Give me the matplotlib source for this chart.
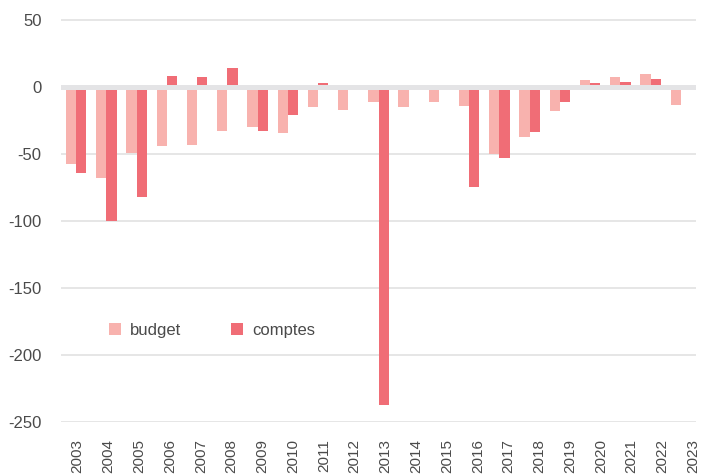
import numpy as np
import matplotlib.pyplot as plt

### data
years = [str(y) for y in range(2003, 2024)]
budget = [-57, -68, -49, -44, -43, -33, -30, -34, -15, -17, -11, -15, -11,
          -14, -50, -37, -18, 5.5, 8, 10.3, -13.3]
comptes = [-64, -100, -82, 8.5, 7.5, 14.3, -33, -21, 3, 0.5, -237, 0.5, 0.5,
           -74.5, -52.5, -33.3, -11.3, 3, 4, 6.5, 0]

c_budget = '#f8b2ae'
c_comptes = '#f06d76'
txt = '#4a4a4a'

plt.rcParams['font.family'] = ['Liberation Sans', 'DejaVu Sans']

fig = plt.figure(figsize=(7.03, 4.75), dpi=100)
ax = fig.add_axes([61 / 703, 53 / 475, 635 / 703, 411 / 475])

x = np.arange(len(years))
w = 0.34
ax.bar(x - w / 2, budget, w, color=c_budget, label='budget', zorder=2)
ax.bar(x + w / 2, comptes, w, color=c_comptes, label='comptes', zorder=2)

# grid + thick zero line
for v in [-250, -200, -150, -100, -50, 50]:
    ax.axhline(v, color='#e6e6e6', lw=1.4, zorder=1)
ax.axhline(0, color='#e4e4e6', lw=3.6, zorder=3)

ax.set_xlim(-0.5, 20.5)
ax.set_ylim(-250, 57)
ax.set_yticks([-250, -200, -150, -100, -50, 0, 50])
ax.set_yticklabels(['-250', '-200', '-150', '-100', '-50', '0', '50'])

# tick labels are spread slightly wider than the bar groups
ax.set_xticks(x * 1.018 + 0.05)
ax.set_xticklabels(years, rotation=90)

ax.tick_params(axis='both', length=0, labelcolor=txt)
ax.tick_params(axis='x', pad=12, labelsize=11)
ax.tick_params(axis='y', pad=14, labelsize=12)
for s in ax.spines.values():
    s.set_visible(False)

ax.legend(loc='center left', bbox_to_anchor=(0.0756, 0.223), ncol=2,
          frameon=False, borderpad=0, borderaxespad=0,
          handlelength=0.7, handleheight=0.7, handletextpad=0.55,
          columnspacing=3.0, fontsize=12, labelcolor=txt)

plt.savefig('out.png', dpi=100)
